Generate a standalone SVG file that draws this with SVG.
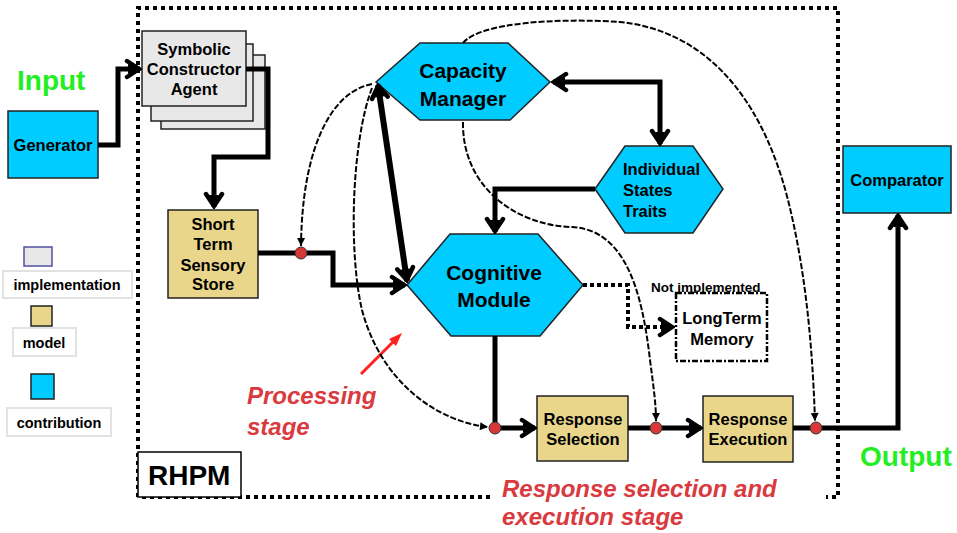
<svg xmlns="http://www.w3.org/2000/svg" width="957" height="533" viewBox="0 0 957 533">
<defs>
<style>
text{font-family:"Liberation Sans",Arial,Helvetica,sans-serif;font-weight:bold;fill:#000}
.n{font-size:16.5px;text-anchor:middle}
.big{font-size:21px;text-anchor:middle}
.lg{font-size:14.5px;text-anchor:middle}
.cyan{fill:#00CCFF;stroke:#222;stroke-width:1.5}
.kh{fill:#E9D68B;stroke:#222;stroke-width:1.5}
.gr{fill:#E8E8E8;stroke:#222;stroke-width:1.5}
.thick{fill:none;stroke:#000;stroke-width:5;stroke-linejoin:miter}
.thin{fill:none;stroke:#000;stroke-width:2;stroke-dasharray:6 2}
.dot{fill:#D63838;stroke:#333;stroke-width:1}
.green{font-size:28px;fill:#22EE22}
.red{font-size:24px;font-style:italic;fill:#D93A40}
.lbox{fill:#fff;stroke:#E2E2E2;stroke-width:2}
.border{fill:none;stroke:#000;stroke-width:4;stroke-dasharray:4 4}
</style>
<marker id="ah" markerUnits="userSpaceOnUse" viewBox="-18 -12 20 24" markerWidth="20" markerHeight="24" refX="0" refY="0" orient="auto-start-reverse">
<path d="M-13 -8 L-1 0 L-13 8" fill="none" stroke="#000" stroke-width="4.5" stroke-linecap="round"/>
<path d="M-12 -5 L0 0 L-12 5 Z" fill="#000"/>
</marker>
<marker id="as" markerUnits="userSpaceOnUse" viewBox="-9 -5 10 10" markerWidth="10" markerHeight="10" refX="0" refY="0" orient="auto">
<path d="M-8 -4 L0 0 L-8 4 Z" fill="#000"/>
</marker>
</defs>
<rect width="957" height="533" fill="#fff"/>

<!-- RHPM boundary -->
<g id="rhpm">
<path class="border" d="M490 497 L138 497 L138 8 L838 8 L838 497 L826 497"/>
<rect x="138" y="452" width="103" height="45" fill="#fff" stroke="#000" stroke-width="1.5"/>
<text x="148" y="485" style="font-size:28px">RHPM</text>
</g>

<!-- labels -->
<g id="labels">
<text class="green" x="17" y="90">Input</text>
<text class="green" x="860" y="466">Output</text>
<text class="red" x="247" y="404">Processing</text>
<text class="red" x="247" y="435">stage</text>
<text class="red" x="502" y="497">Response selection and</text>
<text class="red" x="502" y="525">execution stage</text>
<text x="651" y="292" style="font-size:13.5px">Not implemented</text>
<line x1="361" y1="374" x2="396" y2="339" stroke="#FF2020" stroke-width="3"/>
<path d="M402 333 L389 339 L396 346 Z" fill="#FF2020"/>
</g>

<!-- legend -->
<g id="legend">
<rect x="24" y="247" width="28" height="19" fill="#E8E8E8" stroke="#5050A0" stroke-width="1.5"/>
<rect class="lbox" x="3" y="271" width="129" height="27"/>
<text class="lg" x="67" y="290">implementation</text>
<rect class="kh" x="31" y="306" width="21" height="20"/>
<rect class="lbox" x="13" y="328" width="63" height="28"/>
<text class="lg" x="44" y="348">model</text>
<rect class="cyan" x="31" y="374" width="23" height="25"/>
<rect class="lbox" x="7" y="408" width="104" height="28"/>
<text class="lg" x="59" y="428">contribution</text>
</g>

<!-- nodes -->
<g id="generator">
<rect class="cyan" x="8" y="111" width="90" height="67"/>
<text class="n" x="53" y="151">Generator</text>
</g>
<g id="sca">
<rect class="gr" x="161" y="55" width="104" height="74"/>
<rect class="gr" x="151" y="44" width="102" height="77"/>
<rect class="gr" x="142" y="31" width="104" height="75"/>
<text class="n" x="194" y="55">Symbolic</text>
<text class="n" x="194" y="75">Constructor</text>
<text class="n" x="194" y="95">Agent</text>
</g>
<g id="stss">
<rect class="kh" x="168" y="210" width="90" height="88"/>
<text class="n" x="213" y="230">Short</text>
<text class="n" x="213" y="250">Term</text>
<text class="n" x="213" y="271">Sensory</text>
<text class="n" x="213" y="290">Store</text>
</g>
<g id="capacity">
<polygon class="cyan" points="376,82 420,43 508,43 550,82 510,120 420,120"/>
<text class="big" x="463" y="78">Capacity</text>
<text class="big" x="463" y="106">Manager</text>
</g>
<g id="individual">
<polygon class="cyan" points="595,189 625,146 693,146 723,189 693,233 625,233"/>
<text x="623" y="175" style="font-size:16.5px">Individual</text>
<text x="623" y="196" style="font-size:16.5px">States</text>
<text x="623" y="217" style="font-size:16.5px">Traits</text>
</g>
<g id="cognitive">
<polygon class="cyan" points="407,285 450,234 538,234 583,285 540,336 451,336"/>
<text class="big" x="494" y="280">Cognitive</text>
<text class="big" x="494" y="307">Module</text>
</g>
<g id="ltm">
<rect x="676" y="293" width="91" height="68" fill="#fff" stroke="#000" stroke-width="2.5" stroke-dasharray="6 2 2 2"/>
<text class="n" x="722" y="324">LongTerm</text>
<text class="n" x="722" y="345">Memory</text>
</g>
<g id="rs">
<rect class="kh" x="537" y="396" width="91" height="65"/>
<text class="n" x="583" y="425">Response</text>
<text class="n" x="583" y="445">Selection</text>
</g>
<g id="re">
<rect class="kh" x="703" y="396" width="90" height="66"/>
<text class="n" x="748" y="425">Response</text>
<text class="n" x="748" y="445">Execution</text>
</g>
<g id="comparator">
<rect class="cyan" x="843" y="146" width="108" height="67"/>
<text class="n" x="897" y="186">Comparator</text>
</g>

<!-- connectors -->
<g id="connectors">
<polyline class="thick" points="98,145 118,145 118,69 140,69" marker-end="url(#ah)"/>
<polyline class="thick" points="246,69 268,69 268,157 214,157 214,207" marker-end="url(#ah)"/>
<polyline class="thick" points="258,253 333,253 333,285 405,285" marker-end="url(#ah)"/>
<polyline class="thick" points="495,336 495,428 535,428" marker-end="url(#ah)"/>
<polyline class="thick" points="628,428 701,428" marker-end="url(#ah)"/>
<polyline class="thick" points="793,428 898,428 898,215" marker-end="url(#ah)"/>
<polyline class="thick" points="553,82 660,82 660,144" marker-start="url(#ah)" marker-end="url(#ah)"/>
<polyline class="thick" points="595,189 495,189 495,232" marker-end="url(#ah)"/>
<line x1="378" y1="85" x2="407" y2="281" stroke="#000" stroke-width="6" marker-start="url(#ah)" marker-end="url(#ah)"/>
<polyline points="583,285 628,285 628,327 673,327" fill="none" stroke="#000" stroke-width="4" stroke-dasharray="4 3" marker-end="url(#ah)"/>
<path class="thin" d="M372 84 C330 92 302 150 301 246" marker-end="url(#as)"/>
<path class="thin" d="M372 88 C352 140 348 250 362 310 C382 385 440 422 488 427" marker-end="url(#as)"/>
<path class="thin" d="M463 122 C462 190 520 226 572 227 C625 230 642 290 650 360 C654 390 656 405 656 421" marker-end="url(#as)"/>
<path class="thin" d="M463 43 C480 22 560 18 620 22 C700 30 760 90 788 200 C803 260 812 330 815 421" marker-end="url(#as)"/>
<circle class="dot" cx="301" cy="253" r="6"/>
<circle class="dot" cx="495" cy="428" r="6"/>
<circle class="dot" cx="656" cy="428" r="6"/>
<circle class="dot" cx="816" cy="428" r="6"/>
</g>
</svg>
